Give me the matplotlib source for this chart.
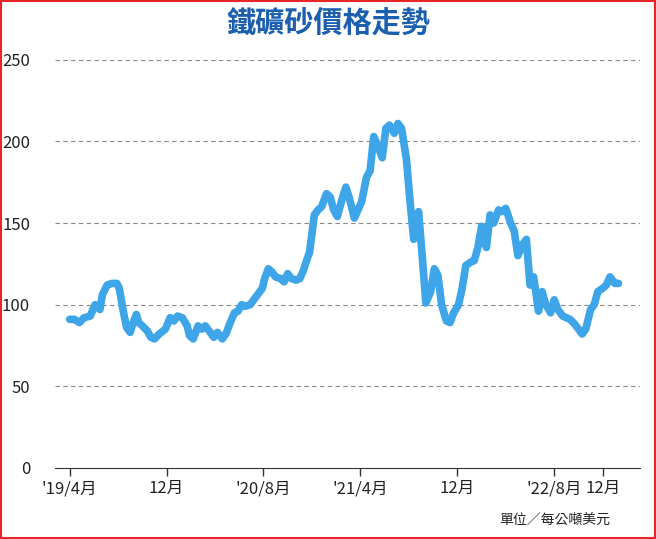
import matplotlib
matplotlib.use("Agg")
import matplotlib.pyplot as plt

plt.rcParams['font.family'] = ['Noto Sans CJK TC', 'DejaVu Sans']

# months since 2019/4
months = [0.0, 0.4, 0.8, 1.2, 1.7, 2.1, 2.5, 2.7, 3.1, 3.5, 3.9, 4.1, 4.4, 4.7, 5.0, 5.2, 5.5, 5.7,
          6.0, 6.4, 6.7, 7.0, 7.4, 7.9, 8.3, 8.6, 8.9, 9.3, 9.7, 9.9, 10.2, 10.6, 10.9, 11.2, 11.6,
          11.9, 12.2, 12.6, 12.9, 13.2, 13.6, 13.9, 14.2, 14.5, 14.9, 15.2, 15.5, 15.9, 16.1, 16.4,
          16.7, 17.0, 17.4, 17.7, 18.0, 18.3, 18.7, 19.0, 19.3, 19.6, 19.8, 20.2, 20.5, 20.8, 21.2,
          21.5, 21.8, 22.1, 22.5, 22.8, 23.1, 23.5, 23.8, 24.1, 24.5, 24.8, 25.1, 25.4, 25.8, 26.1,
          26.4, 26.8, 27.1, 27.4, 27.8, 28.1, 28.4, 28.8, 29.1, 29.4, 29.8, 30.1, 30.4, 30.7, 31.1,
          31.4, 31.7, 32.1, 32.4, 32.7, 33.1, 33.4, 33.7, 34.0, 34.4, 34.7, 35.0, 35.4, 35.7, 36.0,
          36.4, 36.7, 37.0, 37.4, 37.7, 38.0, 38.3, 38.7, 39.0, 39.3, 39.7, 40.0, 40.3, 40.7, 41.0,
          41.3, 41.7, 42.0, 42.3, 42.6, 43.0, 43.3, 43.6, 44.0, 44.3, 44.6, 45.0, 45.3]
price = [91, 91, 89, 92, 93, 100, 97, 106, 112, 113, 113, 110, 97, 86, 83, 88, 94, 89,
         87, 84, 80, 79, 82, 85, 92, 90, 93, 92, 87, 81, 79, 87, 85, 87, 83,
         80, 83, 79, 82, 88, 95, 96, 100, 99, 100, 103, 106, 110, 116, 122,
         120, 117, 116, 114, 119, 116, 115, 116, 121, 128, 132, 155, 158, 160, 168,
         166, 158, 154, 165, 172, 165, 153, 158, 163, 178, 182, 203, 198, 190, 208,
         210, 205, 211, 208, 189, 163, 140, 157, 130, 101, 108, 122, 118, 100, 90,
         89, 95, 100, 110, 124, 126, 127, 135, 148, 135, 155, 150, 158, 157, 159,
         150, 145, 130, 137, 140, 112, 117, 96, 108, 100, 95, 103, 97, 93, 92,
         91, 88, 85, 82, 85, 97, 100, 108, 110, 112, 117, 113, 113]

tick_pos = [0, 8, 16, 24, 32, 40, 44]
tick_labels = ["'19/4月", "12月", "'20/8月", "'21/4月", "12月", "'22/8月", "12月"]
y_ticks = [0, 50, 100, 150, 200, 250]

fig = plt.figure(figsize=(6.56, 5.39), dpi=100)
ax = fig.add_axes([0.084, 0.132, 0.892, 0.757])

ax.plot(months, price, color='#3ea6e8', lw=5.5, solid_joinstyle='round', solid_capstyle='round')

ax.set_xlim(-1.2, 47.1)
ax.set_ylim(0, 250)
ax.set_yticks(y_ticks)
ax.set_yticklabels([str(v) for v in y_ticks], fontsize=12, color='#222222')
ax.tick_params(axis='y', length=0, pad=18)
ax.set_xticks(tick_pos)
ax.set_xticklabels(tick_labels, fontsize=12, color='#222222')
ax.tick_params(axis='x', length=6, width=1, color='#333333', pad=3)

for v in y_ticks[1:]:
    ax.axhline(v, color='#888888', lw=0.8, ls=(0, (4, 3)), zorder=0)
for s in ['top', 'right', 'left']:
    ax.spines[s].set_visible(False)
ax.spines['bottom'].set_color('#333333')

fig.text(0.5, 0.958, '鐵礦砂價格走勢', ha='center', va='center', fontsize=21,
         fontweight='bold', color='#1b5fae')
fig.text(0.93, 0.022, '單位／每公噸美元', ha='right', va='bottom', fontsize=10, color='#222222')

fig.patches.append(plt.Rectangle((0.001, 0.001), 0.997, 0.997, transform=fig.transFigure,
                                 fill=False, edgecolor='#e8262a', lw=1.5))

fig.savefig('out.png', dpi=100)
